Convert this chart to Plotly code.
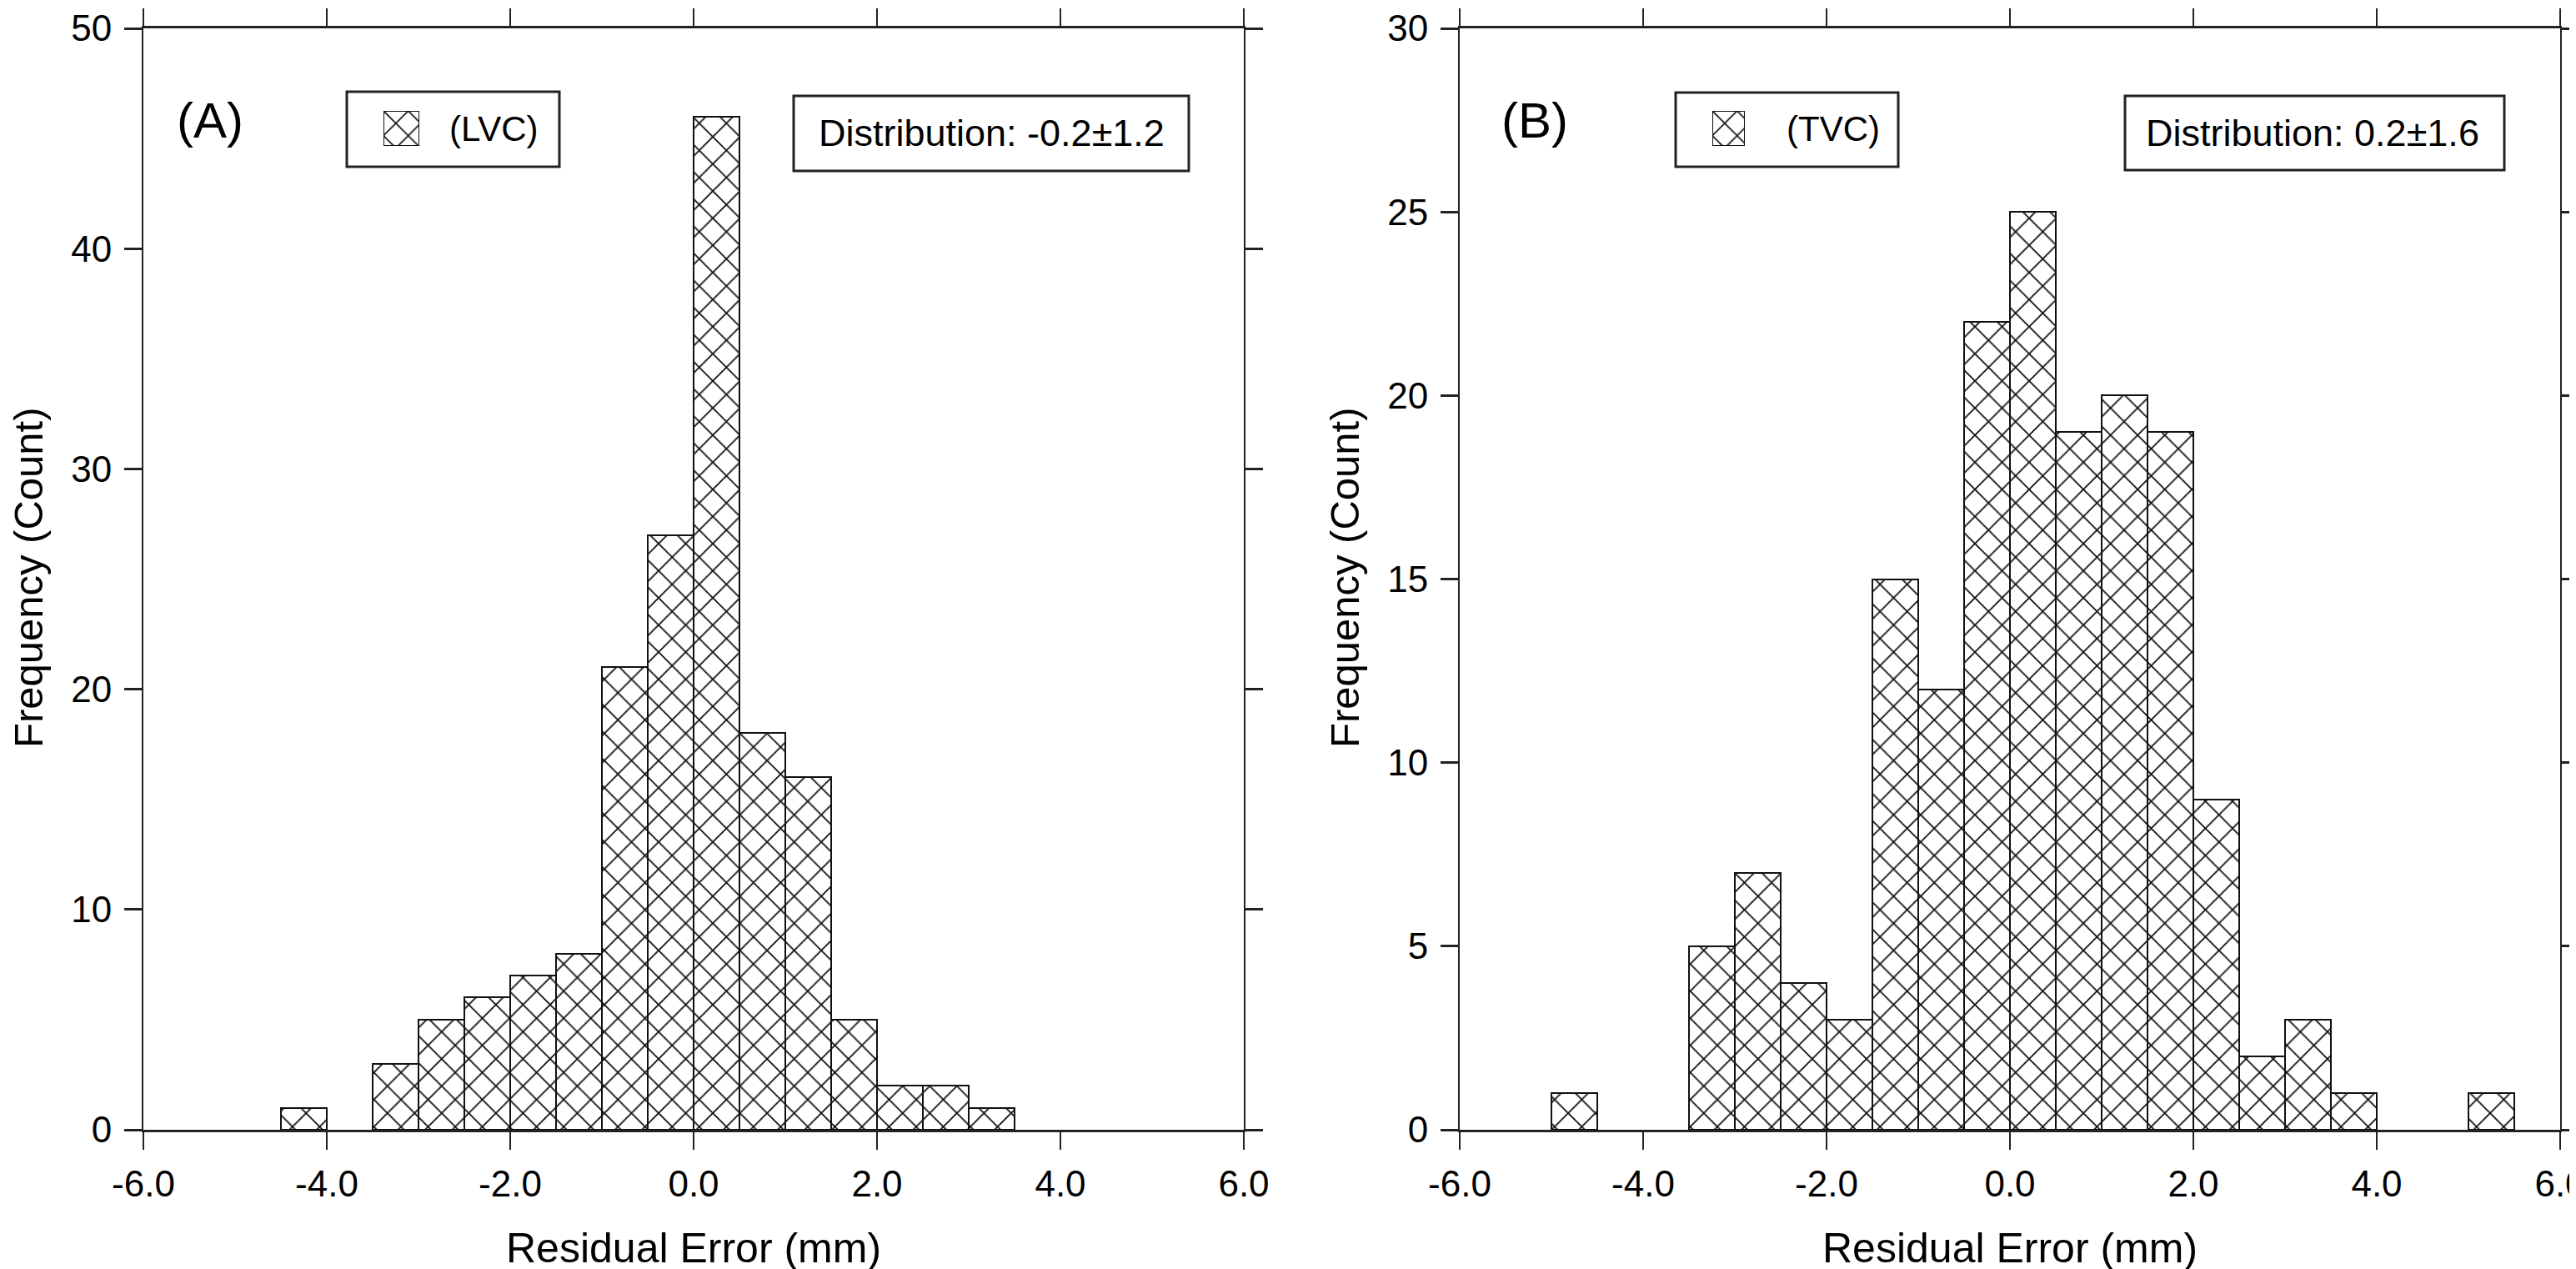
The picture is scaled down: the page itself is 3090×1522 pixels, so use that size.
import plotly.graph_objects as go

# ---------------- data ----------------
bin_width = 0.5
a_left = [-4.5, -3.5, -3.0, -2.5, -2.0, -1.5, -1.0, -0.5, 0.0, 0.5, 1.0, 1.5, 2.0, 2.5, 3.0]
a_counts = [1, 3, 5, 6, 7, 8, 21, 27, 46, 18, 16, 5, 2, 2, 1]
b_left = [-5.0, -3.5, -3.0, -2.5, -2.0, -1.5, -1.0, -0.5, 0.0, 0.5, 1.0, 1.5, 2.0, 2.5, 3.0, 3.5, 5.0]
b_counts = [1, 5, 7, 4, 3, 15, 12, 22, 25, 19, 20, 19, 9, 2, 3, 1, 1]

series_names = ["(LVC)", "(TVC)"]
panel_labels = ["(A)", "(B)"]
stats_texts = ["Distribution: -0.2\u00b11.2", "Distribution: 0.2\u00b11.6"]

x_tickvals = [-6, -4, -2, 0, 2, 4, 6]
x_ticktext = ["-6.0", "-4.0", "-2.0", "0.0", "2.0", "4.0", "6.0"]
a_yticks = [0, 10, 20, 30, 40, 50]
b_yticks = [0, 5, 10, 15, 20, 25, 30]
x_title = "Residual Error (mm)"
y_title = "Frequency (Count)"

# ---------------- layout helpers ----------------
W, H = 3090, 1522
FONT = "Liberation Sans, Arial, sans-serif"


def px_x(v):
    return v / W


def px_y(v):
    return 1 - v / H


pattern = dict(shape="x", size=23, solidity=0.15, fgcolor="#111", bgcolor="white")

fig = go.Figure()

fig.add_trace(go.Bar(x=a_left, y=a_counts, width=bin_width, offset=0,
                     marker=dict(color="white", pattern=pattern,
                                 line=dict(color="#111", width=2)),
                     name=series_names[0], showlegend=False,
                     xaxis="x", yaxis="y"))
fig.add_trace(go.Bar(x=b_left, y=b_counts, width=bin_width, offset=0,
                     marker=dict(color="white", pattern=pattern,
                                 line=dict(color="#111", width=2)),
                     name=series_names[1], showlegend=False,
                     xaxis="x2", yaxis="y2"))

# legend swatches
swatch_pattern = dict(shape="x", size=21, solidity=0.15, fgcolor="#111", bgcolor="white")
fig.add_trace(go.Bar(x=[0], y=[1], width=1, offset=0,
                     marker=dict(color="white", pattern=swatch_pattern,
                                 line=dict(color="#111", width=2)),
                     showlegend=False, hoverinfo="skip", xaxis="x3", yaxis="y3"))
fig.add_trace(go.Bar(x=[0], y=[1], width=1, offset=0,
                     marker=dict(color="white", pattern=swatch_pattern,
                                 line=dict(color="#111", width=2)),
                     showlegend=False, hoverinfo="skip", xaxis="x4", yaxis="y4"))

tick_font = dict(family=FONT, size=44, color="black")

common_x = dict(range=[-6, 6], tickvals=x_tickvals, ticktext=x_ticktext,
                ticks="outside", ticklen=21, tickwidth=2, tickcolor="#222",
                showline=True, linewidth=3, linecolor="#222", mirror="ticks",
                showgrid=False, zeroline=False, tickfont=tick_font,
                automargin=False, ticklabelstandoff=3, ticklabeloverflow="allow")
common_y = dict(ticks="outside", ticklen=21, tickwidth=3, tickcolor="#222",
                showline=True, linewidth=2, linecolor="#222", mirror="ticks",
                showgrid=False, zeroline=False, tickfont=tick_font,
                automargin=False, ticklabelstandoff=6, ticklabeloverflow="allow")

ya_dom = [px_y(1347), px_y(26)]

fig.update_layout(
    width=W, height=H,
    margin=dict(l=0, r=0, t=0, b=0),
    paper_bgcolor="white", plot_bgcolor="white",
    template="none",
    bargap=0,
    font=dict(family=FONT, color="black"),
    xaxis=dict(domain=[px_x(164), px_x(1484)], anchor="y", **common_x),
    yaxis=dict(domain=ya_dom, anchor="x", range=[0, 50], tickvals=a_yticks, **common_y),
    xaxis2=dict(domain=[px_x(1743), px_x(3063)], anchor="y2", **common_x),
    yaxis2=dict(domain=ya_dom, anchor="x2", range=[0, 30], tickvals=b_yticks, **common_y),
    xaxis3=dict(domain=[px_x(452), px_x(495)], anchor="y3", range=[0, 1], visible=False),
    yaxis3=dict(domain=[px_y(167), px_y(125)], anchor="x3", range=[0, 1], visible=False),
    xaxis4=dict(domain=[px_x(2046), px_x(2085)], anchor="y4", range=[0, 1], visible=False),
    yaxis4=dict(domain=[px_y(167), px_y(125)], anchor="x4", range=[0, 1], visible=False),
)

shapes = []
annotations = []

panels = [
    dict(label_x=244, legend_box=(408, 102, 663, 192), legend_text_x=584,
         stats_box=(944, 107, 1418, 197), stats_x=1181, plot_cx=824, ytitle_x=26),
    dict(label_x=1833, legend_box=(2002, 103, 2269, 192), legend_text_x=2191,
         stats_box=(2541, 107, 2996, 196), stats_x=2766, plot_cx=2403, ytitle_x=1605),
]

for i, p in enumerate(panels):
    x0, y0, x1, y1 = p["legend_box"]
    shapes.append(dict(type="rect", xref="paper", yref="paper",
                       x0=px_x(x0), x1=px_x(x1), y0=px_y(y1), y1=px_y(y0),
                       line=dict(color="#222", width=3), fillcolor="rgba(0,0,0,0)"))
    x0, y0, x1, y1 = p["stats_box"]
    shapes.append(dict(type="rect", xref="paper", yref="paper",
                       x0=px_x(x0), x1=px_x(x1), y0=px_y(y1), y1=px_y(y0),
                       line=dict(color="#222", width=3), fillcolor="rgba(0,0,0,0)"))
    annotations.append(dict(text=panel_labels[i], xref="paper", yref="paper",
                            x=px_x(p["label_x"]), y=px_y(137), showarrow=False,
                            xanchor="center", yanchor="middle",
                            font=dict(family=FONT, size=60, color="black")))
    annotations.append(dict(text=series_names[i], xref="paper", yref="paper",
                            x=px_x(p["legend_text_x"]), y=px_y(147), showarrow=False,
                            xanchor="center", yanchor="middle",
                            font=dict(family=FONT, size=42, color="black")))
    annotations.append(dict(text=stats_texts[i], xref="paper", yref="paper",
                            x=px_x(p["stats_x"]), y=px_y(152), showarrow=False,
                            xanchor="center", yanchor="middle",
                            font=dict(family=FONT, size=45, color="black")))
    annotations.append(dict(text=x_title, xref="paper", yref="paper",
                            x=px_x(p["plot_cx"]), y=px_y(1489), showarrow=False,
                            xanchor="center", yanchor="middle", borderpad=0,
                            font=dict(family=FONT, size=50, color="black")))
    annotations.append(dict(text=y_title, xref="paper", yref="paper",
                            x=px_x(p["ytitle_x"]), y=px_y(685), showarrow=False,
                            textangle=-90, xanchor="center", yanchor="middle",
                            font=dict(family=FONT, size=49, color="black")))

fig.update_layout(shapes=shapes, annotations=annotations)

fig.write_html("out.html")
